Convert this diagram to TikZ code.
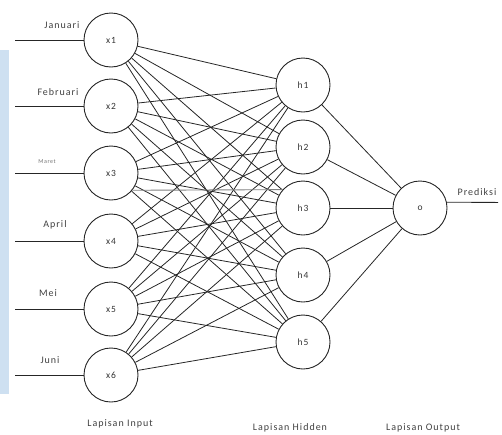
\documentclass[tikz,border=0pt]{standalone}
\usepackage{fontspec}
\setmainfont[LetterSpace=10]{Carlito}
\definecolor{sidebar}{RGB}{206,224,241}
\begin{document}
\begin{tikzpicture}[x=1pt,y=-1pt,
  neuron/.style={circle,draw=black!85,line width=0.9pt,minimum size=54pt,inner sep=0pt,font=\fontsize{9.5}{10}\selectfont,text=black!80},
  conn/.style={draw=black!85,line width=0.8pt},
  lab/.style={font=\fontsize{10}{11}\selectfont,text=black!75,inner sep=0pt},
  small/.style={font=\fontsize{6}{7}\selectfont,text=black!55,inner sep=0pt}]
\useasboundingbox (0,0) rectangle (502,434);
\fill[sidebar] (0,50) rectangle (9,394);
% input neurons
\foreach \i/\y in {1/40,2/106,3/173,4/241,5/309,6/375}
  \node[neuron] (x\i) at (111,\y) {x\i};
\foreach \i/\y in {1/85,2/147,3/208,4/275,5/342}
  \node[neuron] (h\i) at (303,\y) {h\i};
\node[neuron] (o) at (420,208) {o};
% input lines
\foreach \i/\y in {1/40,2/106,3/173,4/241,5/309,6/375}{
  \coordinate (in\i) at (15,\y);
  \draw[conn] (in\i) -- (x\i);
}
% labels
\node[lab] (lj) at (62,25) {Januari};
\node[lab] (lf) at (58,92) {Februari};
\node[small] (lm) at (47,162) {Maret};
\node[lab] (la) at (55,225) {April};
\node[lab] (lme) at (48,293) {Mei};
\node[lab] (lju) at (50,360) {Juni};
% connections
\foreach \i in {1,...,6}
  \foreach \j in {1,...,5}
    \draw[conn] (x\i) -- (h\j);
\draw[draw=black!50,line width=0.9pt] (x3.-39) -- (h3.138);
\foreach \j in {1,...,5}
  \draw[conn] (h\j) -- (o);
\coordinate (pe) at (498,202.4);
\draw[conn] (o.12) -- (pe);
\node[lab] (lp) at (477,192) {Prediksi};
\node[lab] (li) at (120,424) {Lapisan Input};
\node[lab] (lh) at (290,428) {Lapisan Hidden};
\node[lab] (lo) at (423,428) {Lapisan Output};
\end{tikzpicture}
\end{document}
